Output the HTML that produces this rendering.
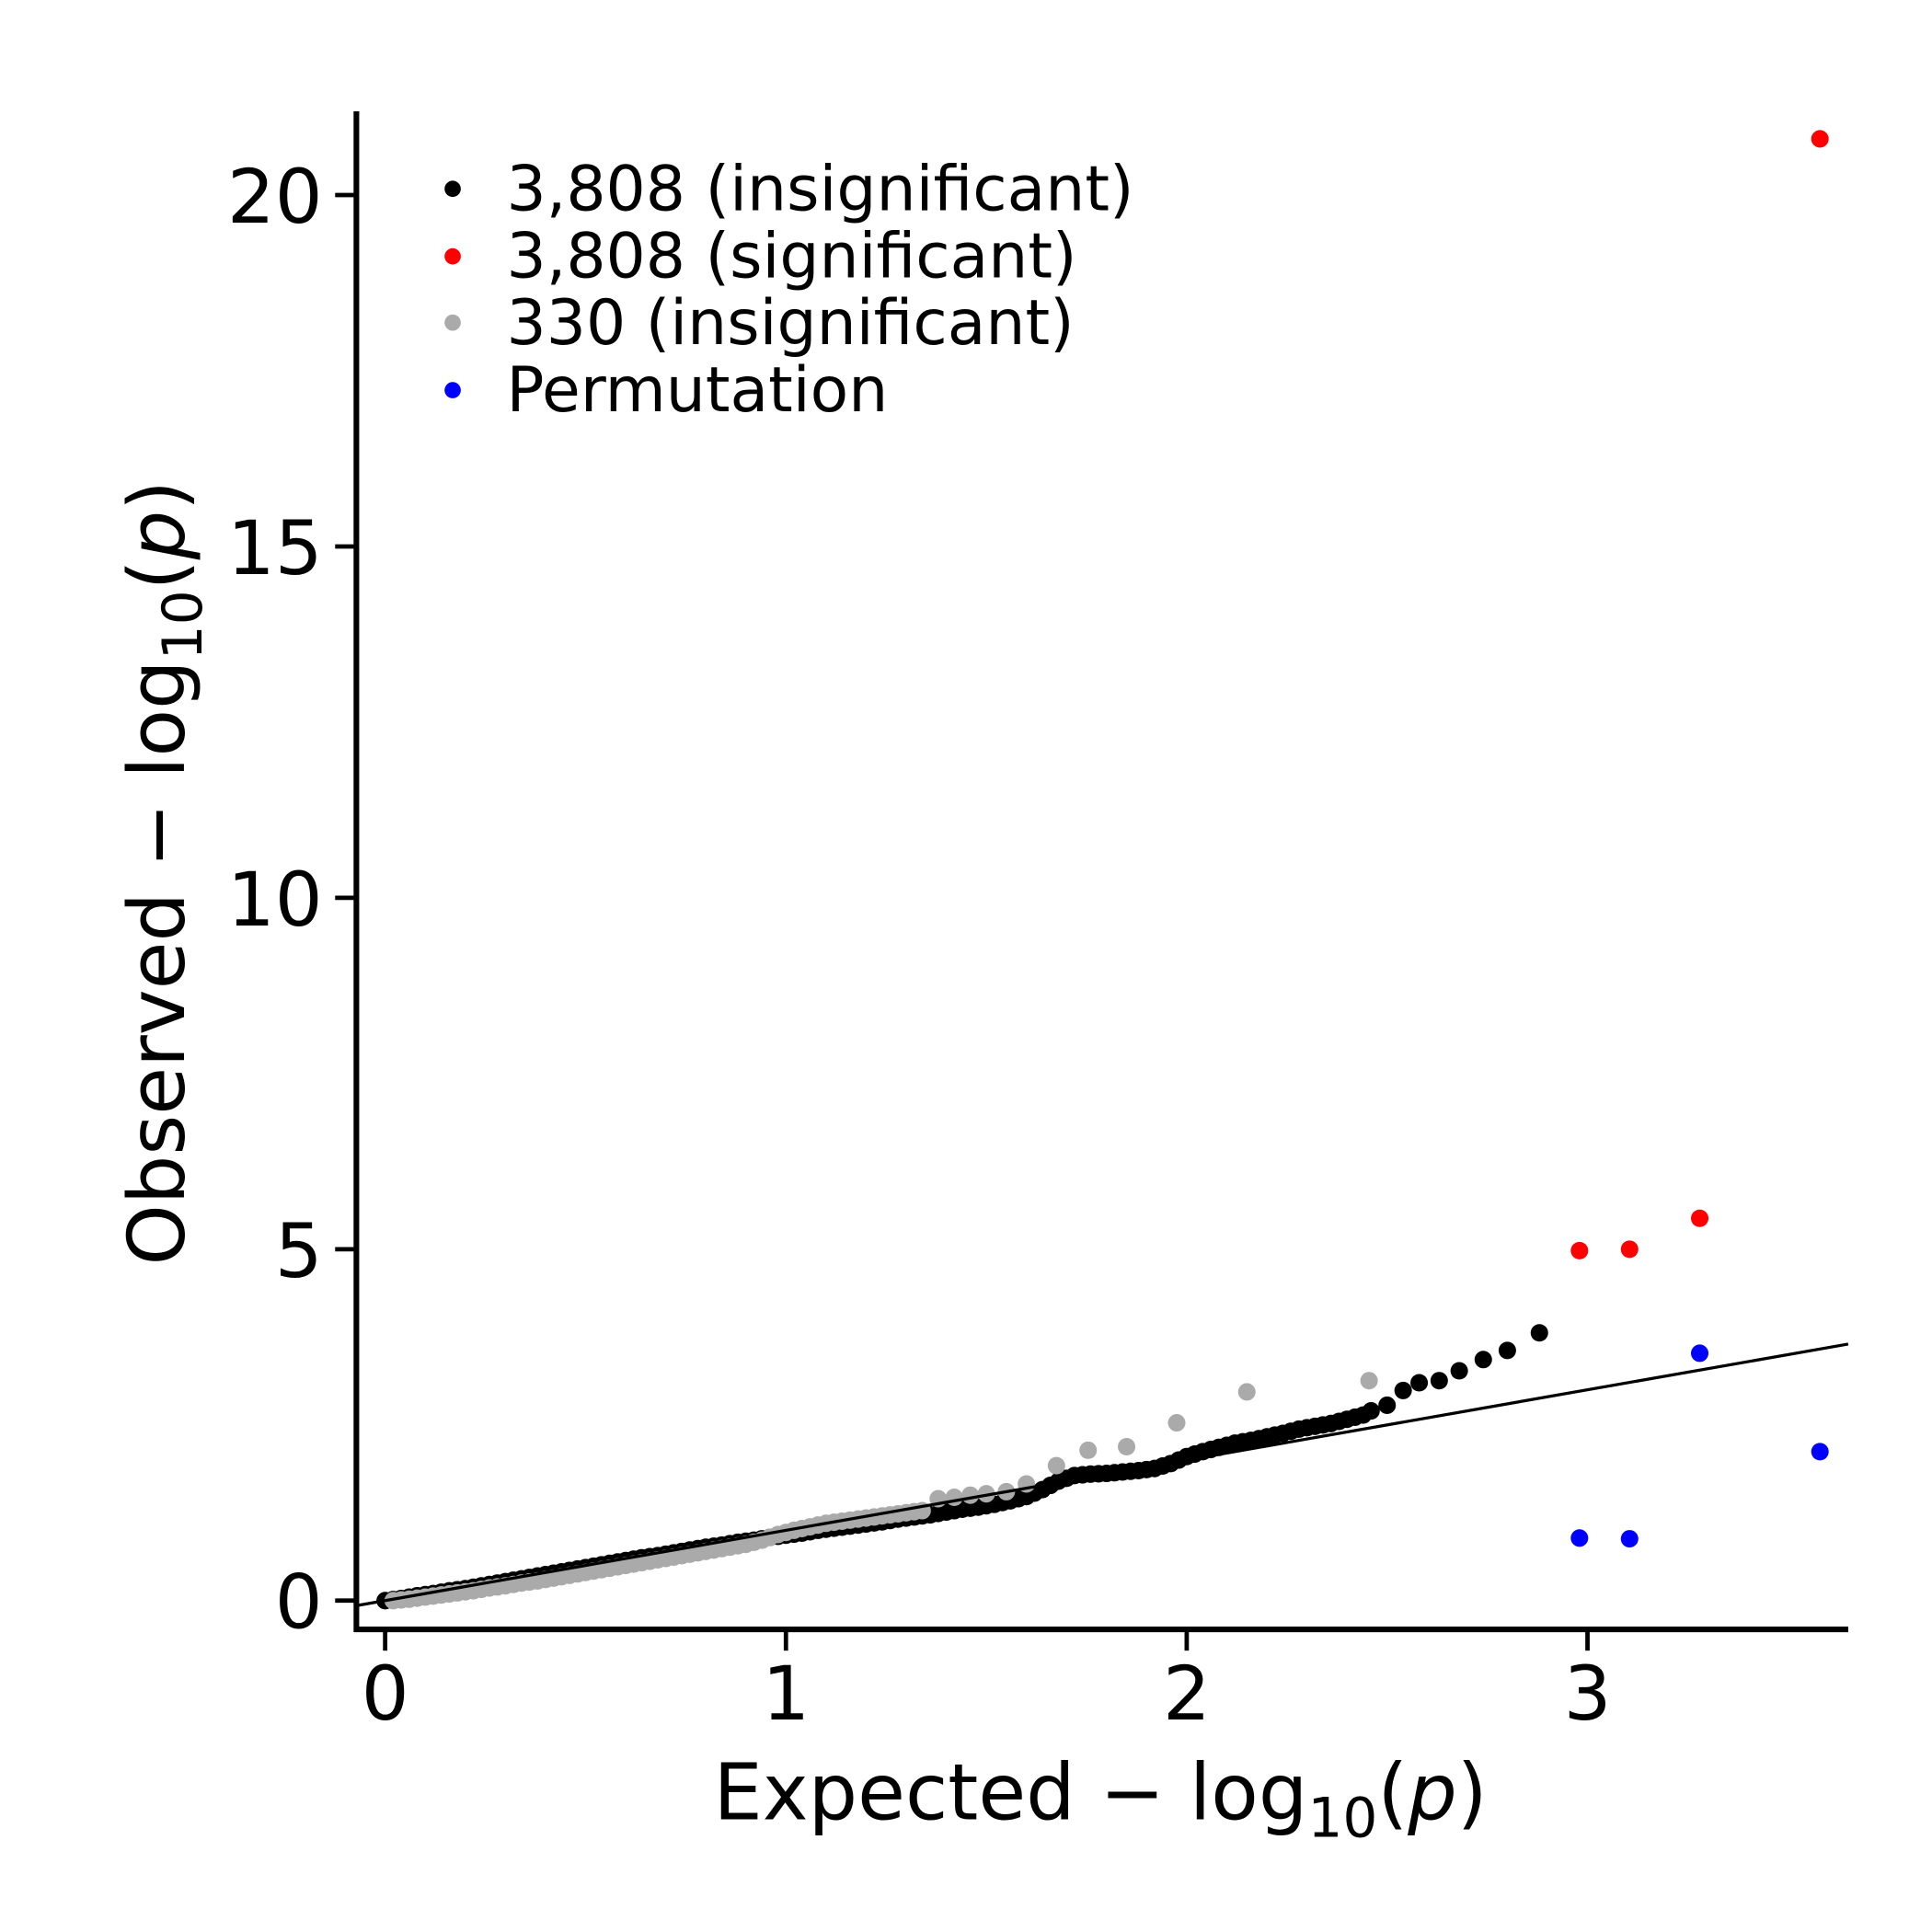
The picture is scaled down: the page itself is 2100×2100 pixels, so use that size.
<!DOCTYPE html>
<html><head><meta charset="utf-8"><style>
html,body{margin:0;padding:0;background:#fff;}
svg{display:block;}
text{font-family:"DejaVu Sans","Liberation Sans",sans-serif;fill:#000;}
</style></head><body>
<svg id="chart" width="2100" height="2100" viewBox="0 0 1545 1545" xmlns="http://www.w3.org/2000/svg">
<g id="points"></g>
<line id="refline" stroke="#000" stroke-width="2.4"/>
<g id="axes"></g>
<g>
  <circle cx="362" cy="151" r="6.5" fill="#000"/>
  <text x="405" y="168" font-size="50">3,808 (insignificant)</text>
  <circle cx="362" cy="205" r="6.5" fill="#f00"/>
  <text x="405" y="222" font-size="50">3,808 (significant)</text>
  <circle cx="362" cy="258" r="6.5" fill="#aaa"/>
  <text x="405" y="275" font-size="50">330 (insignificant)</text>
  <circle cx="362" cy="312" r="6.5" fill="#00f"/>
  <text x="405" y="329" font-size="50">Permutation</text>
</g>
<text x="880" y="1455" font-size="62" text-anchor="middle">Expected − log<tspan font-size="44" dy="14">10</tspan><tspan dy="-14">(</tspan><tspan font-style="italic">p</tspan>)</text>
<text transform="translate(147,698) rotate(-90)" font-size="62" text-anchor="middle">Observed − log<tspan font-size="44" dy="14">10</tspan><tspan dy="-14">(</tspan><tspan font-style="italic">p</tspan>)</text>
</svg>
<script>
const blackX=[0,0.04,0.08,0.12,0.16,0.2,0.24,0.28,0.32,0.36,0.4,0.44,0.48,0.52,0.56,0.6,0.64,0.68,0.72,0.76,0.8,0.84,0.88,0.92,0.96,1.0,1.04,1.08,1.12,1.16,1.2,1.24,1.28,1.32,1.36,1.4,1.44,1.48,1.52,1.56,1.6,1.64,1.68,1.72,1.76,1.8,1.84,1.88,1.92,1.96,2.0,2.04,2.08,2.12,2.16,2.2,2.24,2.28,2.32,2.36,2.4,2.44,2.46,2.5,2.54,2.58,2.63,2.68,2.74,2.8,2.88];
const blackY=[0.0,0.03,0.07,0.1,0.14,0.17,0.21,0.25,0.29,0.33,0.37,0.41,0.45,0.49,0.53,0.57,0.61,0.64,0.68,0.72,0.76,0.79,0.83,0.86,0.9,0.93,0.96,1.0,1.03,1.06,1.09,1.12,1.16,1.19,1.22,1.26,1.3,1.33,1.37,1.42,1.48,1.58,1.7,1.78,1.8,1.81,1.83,1.85,1.88,1.95,2.05,2.12,2.18,2.24,2.28,2.33,2.38,2.44,2.48,2.52,2.58,2.64,2.7,2.78,2.99,3.1,3.13,3.27,3.43,3.56,3.81];
const blackX2=[0.02,0.06,0.1,0.14,0.18,0.22,0.26,0.3,0.34,0.38,0.42,0.46,0.5,0.54,0.58,0.62,0.66,0.7,0.74,0.78,0.82,0.86,0.9,0.94,0.98,1.02,1.06,1.1,1.14,1.18,1.22,1.26,1.3,1.34,1.38,1.42,1.46,1.5,1.54,1.58,1.62,1.66,1.7,1.74,1.78,1.82,1.86,1.9,1.94,1.98,2.02,2.06,2.1,2.14,2.18,2.22,2.26,2.3,2.34,2.38,2.42];
const blackY2=[0.015,0.05,0.085,0.12,0.155,0.19,0.23,0.27,0.31,0.35,0.39,0.43,0.47,0.51,0.55,0.59,0.625,0.66,0.70,0.74,0.775,0.81,0.845,0.88,0.915,0.945,0.98,1.015,1.045,1.075,1.105,1.14,1.175,1.205,1.24,1.28,1.315,1.35,1.395,1.45,1.53,1.64,1.74,1.79,1.805,1.82,1.84,1.865,1.915,2.0,2.085,2.15,2.21,2.26,2.305,2.355,2.41,2.46,2.5,2.55,2.61];
const grayX=[0.02,0.06,0.1,0.14,0.18,0.22,0.26,0.3,0.34,0.38,0.42,0.46,0.5,0.54,0.58,0.62,0.66,0.7,0.74,0.78,0.82,0.86,0.9,0.94,0.98,1.02,1.06,1.1,1.14,1.18,1.22,1.26,1.3,1.34,1.38,1.42,1.46,1.5,1.55,1.6,1.675,1.754,1.85,1.975,2.15,2.455];
const grayY=[0.0,0.02,0.05,0.08,0.11,0.14,0.18,0.21,0.25,0.28,0.32,0.36,0.4,0.44,0.48,0.52,0.56,0.6,0.64,0.68,0.72,0.76,0.8,0.86,0.94,1.0,1.05,1.1,1.13,1.16,1.19,1.22,1.25,1.28,1.45,1.47,1.5,1.52,1.55,1.66,1.92,2.14,2.19,2.53,2.97,3.13];
const grayX2=[0.04,0.08,0.12,0.16,0.2,0.24,0.28,0.32,0.36,0.4,0.44,0.48,0.52,0.56,0.6,0.64,0.68,0.72,0.76,0.8,0.84,0.88,0.92,0.96,1.0,1.04,1.08,1.12,1.16,1.2,1.24,1.28,1.32];
const grayY2=[0.01,0.035,0.065,0.095,0.125,0.16,0.195,0.23,0.265,0.30,0.34,0.38,0.42,0.46,0.50,0.54,0.58,0.62,0.66,0.70,0.74,0.78,0.83,0.90,0.97,1.025,1.075,1.115,1.145,1.175,1.205,1.235,1.265];
const redX=[2.98,3.105,3.28,3.58];
const redY=[4.98,5.0,5.44,20.8];
const blueX=[2.98,3.105,3.28,3.58];
const blueY=[0.89,0.88,3.52,2.12];
const xTicks=[0,1,2,3];
const yTicks=[0,5,10,15,20];

const X0=308, XU=320.5, Y0=1280, YU=56.2;
function sx(v){return X0+v*XU;}
function sy(v){return Y0-v*YU;}
const NS='http://www.w3.org/2000/svg';
const pts=document.getElementById('points');
function drawSeries(xs,ys,color,name){
  for(let i=0;i<xs.length;i++){
    const c=document.createElementNS(NS,'circle');
    c.setAttribute('cx',sx(xs[i]));c.setAttribute('cy',sy(ys[i]));
    c.setAttribute('r',7);c.setAttribute('fill',color);
    
    
    pts.appendChild(c);
  }
}
drawSeries(blackX,blackY,'#000','insignificant-3808');
drawSeries(blackX2,blackY2,'#000','insignificant-3808');
drawSeries(grayX,grayY,'#aaa','insignificant-330');
drawSeries(grayX2,grayY2,'#aaa','insignificant-330');
drawSeries(redX,redY,'#f00','significant-3808');
drawSeries(blueX,blueY,'#00f','permutation');

const xmin=(285-X0)/XU, xmax=(1478-X0)/XU;
const rl=document.getElementById('refline');
rl.setAttribute('x1',sx(xmin));rl.setAttribute('y1',sy(xmin));
rl.setAttribute('x2',sx(xmax));rl.setAttribute('y2',sy(xmax));

const ax=document.getElementById('axes');
function el(tag,attrs){const e=document.createElementNS(NS,tag);for(const k in attrs)e.setAttribute(k,attrs[k]);ax.appendChild(e);return e;}
const ya=el('line',{x1:285,y1:89,x2:285,y2:1305,stroke:'#000','stroke-width':4.5});


const xa=el('line',{x1:283,y1:1303,x2:1478,y2:1303,stroke:'#000','stroke-width':4.5});


xTicks.forEach(t=>{
  const l=el('line',{x1:sx(t),y1:1305,x2:sx(t),y2:1320,stroke:'#000','stroke-width':3.5});
  
  
  const tx=el('text',{x:sx(t),y:1375,'font-size':60,'text-anchor':'middle'});
  tx.textContent=t;
  
  
});
yTicks.forEach(t=>{
  const l=el('line',{x1:268,y1:sy(t),x2:285,y2:sy(t),stroke:'#000','stroke-width':3.5});
  
  
  const tx=el('text',{x:258,y:sy(t)+22,'font-size':60,'text-anchor':'end'});
  tx.textContent=t;
  
  
});
</script>
</body></html>
